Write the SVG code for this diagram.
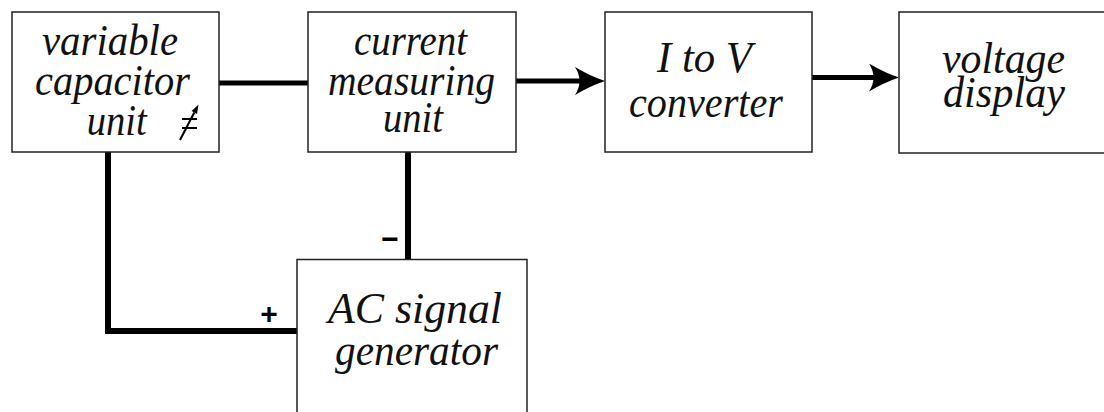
<svg xmlns="http://www.w3.org/2000/svg" width="1104" height="412" viewBox="0 0 1104 412">
  <style>
    .box { fill: #ffffff; stroke: #222222; stroke-width: 1.5; }
    .lbl { font-family: "Liberation Serif", "Times New Roman", serif; font-style: italic; font-size: 45px; fill: #111111; text-anchor: middle; }
    .wire { fill: none; stroke: #000000; stroke-width: 6; stroke-linejoin: miter; stroke-linecap: butt; }
    .thin { stroke-width: 5; }
    .sign { font-family: "Liberation Sans", Arial, sans-serif; font-weight: bold; font-size: 30px; fill: #000000; text-anchor: middle; }
    .sym { stroke: #000000; stroke-width: 2; fill: none; }
  </style>
  <defs>
    <marker id="arrow" viewBox="0 0 30 28" refX="10" refY="14" markerWidth="30" markerHeight="28" markerUnits="userSpaceOnUse" orient="auto">
      <path d="M30,14 Q15,9 0,0 Q9,14 0,28 Q15,19 30,14 Z" fill="#000000"/>
    </marker>
  </defs>
  <rect width="1104" height="412" fill="#ffffff"/>

  <g id="connectors">
    <line class="wire thin" x1="219" y1="83" x2="308" y2="83"/>
    <line class="wire thin" x1="516" y1="81" x2="585" y2="81" marker-end="url(#arrow)"/>
    <line class="wire thin" x1="812" y1="77.5" x2="879" y2="77.5" marker-end="url(#arrow)"/>
    <polyline class="wire" points="108,152 108,331 297,331"/>
    <line class="wire" x1="408" y1="152" x2="408" y2="259"/>
    <text class="sign" x="390" y="249">−</text>
    <text class="sign" x="269" y="324">+</text>
  </g>

  <g id="variable-capacitor-unit">
    <rect class="box" x="12" y="12" width="207" height="140"/>
    <text class="lbl" x="110" y="55" textLength="136" lengthAdjust="spacingAndGlyphs">variable</text>
    <text class="lbl" x="112.5" y="95" textLength="155" lengthAdjust="spacingAndGlyphs">capacitor</text>
    <text class="lbl" x="116.7" y="135" textLength="60" lengthAdjust="spacingAndGlyphs">unit</text>
    <line class="sym" x1="182" y1="119" x2="197" y2="119"/>
    <line class="sym" x1="182" y1="128" x2="197" y2="128"/>
    <line class="sym" x1="180" y1="140" x2="194.3" y2="112.5"/>
    <polygon points="198.5,104.5 197,113.9 191.6,111.1" fill="#000000"/>
  </g>

  <g id="current-measuring-unit">
    <rect class="box" x="308" y="12" width="208" height="140"/>
    <text class="lbl" x="410.5" y="55" textLength="113" lengthAdjust="spacingAndGlyphs">current</text>
    <text class="lbl" x="411.5" y="95" textLength="167" lengthAdjust="spacingAndGlyphs">measuring</text>
    <text class="lbl" x="413" y="132" textLength="60" lengthAdjust="spacingAndGlyphs">unit</text>
  </g>

  <g id="i-to-v-converter">
    <rect class="box" x="605" y="12" width="207" height="140"/>
    <text class="lbl" x="704.5" y="72" textLength="95" lengthAdjust="spacingAndGlyphs">I to V</text>
    <text class="lbl" x="706" y="117" textLength="154" lengthAdjust="spacingAndGlyphs">converter</text>
  </g>

  <g id="voltage-display">
    <rect class="box" x="899" y="12" width="207" height="141"/>
    <text class="lbl" x="1003.5" y="73" textLength="123" lengthAdjust="spacingAndGlyphs">voltage</text>
    <text class="lbl" x="1004" y="107" textLength="122" lengthAdjust="spacingAndGlyphs">display</text>
  </g>

  <g id="ac-signal-generator">
    <rect class="box" x="297" y="259.5" width="230" height="200"/>
    <text class="lbl" x="415" y="323" textLength="174" lengthAdjust="spacingAndGlyphs">AC signal</text>
    <text class="lbl" x="416.5" y="365" textLength="163" lengthAdjust="spacingAndGlyphs">generator</text>
  </g>
</svg>
